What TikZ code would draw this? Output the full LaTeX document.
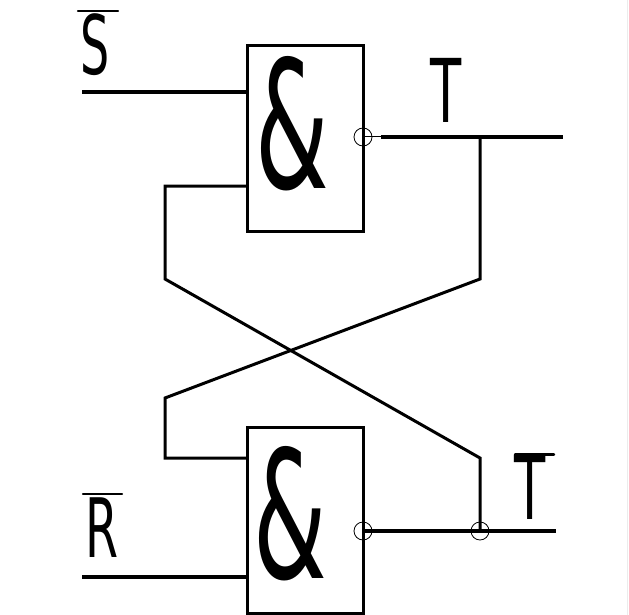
\documentclass[tikz,border=0pt]{standalone}
\usepackage{graphicx}
\usepackage{fontspec}
\setmainfont{DejaVu Sans}
\newcommand{\narrowtext}[3]{\fontsize{#1}{#1}\selectfont\scalebox{#2}[1]{#3}}
\tikzset{
gate/.style = {draw, line width = 2.4pt, minimum width = 116pt, minimum height = 186pt, inner sep = 0pt},
wire/.style = {line width = 3pt, line join = miter},
flatwire/.style = {line width = 3.1pt},
thinwire/.style = {line width = 1pt},
bubble/.style = {draw, circle, line width = 0.8pt, minimum size = 18pt, inner sep = 0pt},
letter/.style = {inner sep = 0pt, anchor = center},
bar/.style = {line width = 2.4pt, line cap = round}
}
\begin{document}
\begin{tikzpicture}[x = 1pt, y = -1pt]
\useasboundingbox (0,0) rectangle (629,615);
\draw [gray!15] (627.5,0) -- (627.5,615);
% gates
\node [gate] (topgate) at (305.5,138.5) {};
\node [gate] (botgate) at (305.5,520.5) {};
\node [letter] (topamp) at (292.5,124) {\narrowtext{178}{0.53}{\&}};
\node [letter] (botamp) at (290.5,514) {\narrowtext{178}{0.53}{\&}};
% free ends of the wires
\coordinate (sin) at (82,92);
\coordinate (rin) at (82,577);
\coordinate (topout) at (563,137);
\coordinate (botout) at (556,531);
\coordinate (topthick) at (381,137);
\coordinate (topnode) at (480,137);
\coordinate (topbendA) at (165,186);
\coordinate (topbendB) at (165,279);
\coordinate (botbendA) at (480,279);
\coordinate (botbendB) at (165,398);
\coordinate (botbendC) at (165,458);
\coordinate (crossend) at (480,458);
% bubbles
\node [bubble] (topdot) at (363,137) {};
\node [bubble] (botdot) at (363,531) {};
\node [bubble] (joindot) at (480,531) {};
% connections
\draw [flatwire] (sin) -- (sin -| topgate.west);
\draw [flatwire] (rin) -- (rin -| botgate.west);
\draw [thinwire] (topdot.center) -- (topthick);
\draw [flatwire] (topthick) -- (topout);
\draw [flatwire] (botdot.center) -- (botout);
\draw [wire] (topbendA -| topgate.west) -- (topbendA) -- (topbendB) -- (crossend) -- (joindot.center);
\draw [wire] (topnode) -- (botbendA) -- (botbendB) -- (botbendC) -- (botbendC -| botgate.west);
% labels
\node [letter] (slabel) at (95,45) {\narrowtext{82}{0.56}{S}};
\node [letter] (rlabel) at (102,528) {\narrowtext{82}{0.58}{R}};
\node [letter] (tlabel) at (446.5,90) {\narrowtext{88}{0.58}{T}};
\node [letter] (nlabel) at (530,487) {\narrowtext{88}{0.58}{T}};
\coordinate (sbar) at (78,11);
\coordinate (rbar) at (83,494);
\coordinate (nbar) at (515,454.5);
\draw [bar] (sbar) -- ++(40,0);
\draw [bar] (rbar) -- ++(39,0);
\draw [bar] (nbar) -- ++(39,0);
\end{tikzpicture}
\end{document}
